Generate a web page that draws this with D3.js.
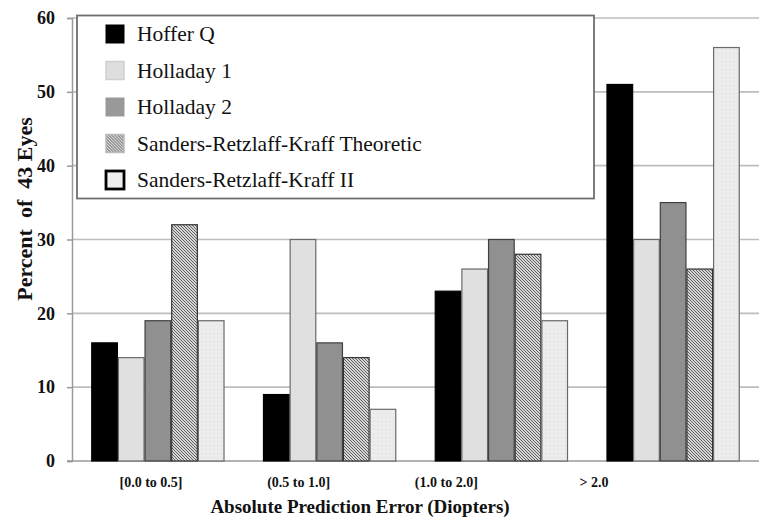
<!DOCTYPE html>
<html><head><meta charset="utf-8">
<script src="https://cdn.jsdelivr.net/npm/d3@7"></script>
<style>body{margin:0;background:#fff}svg{display:block}</style>
</head><body><svg id="c" width="771" height="532"></svg>
<script>
const categories = ["[0.0 to 0.5]", "(0.5 to 1.0]", "(1.0 to 2.0]", "> 2.0"];
const seriesNames = ["Hoffer Q", "Holladay 1", "Holladay 2", "Sanders-Retzlaff-Kraff Theoretic", "Sanders-Retzlaff-Kraff II"];
const hofferQ = [16, 9, 23, 51];
const holladay1 = [14, 30, 26, 30];
const holladay2 = [19, 16, 30, 35];
const srkT = [32, 14, 28, 26];
const srkII = [19, 7, 19, 56];
const yTicks = [0, 10, 20, 30, 40, 50, 60];

const FONT = "Liberation Serif";
const series = [hofferQ, holladay1, holladay2, srkT, srkII];
const svg = d3.select("#c");
const defs = svg.append("defs");
const hatch = defs.append("pattern").attr("id","hatch").attr("patternUnits","userSpaceOnUse").attr("width",3).attr("height",3);
hatch.append("rect").attr("width",3).attr("height",3).attr("fill","#d6d6d6");
[0,1,2].forEach(k => hatch.append("rect").attr("x",k).attr("y",k).attr("width",1).attr("height",1).attr("fill","#606060"));
const dots = defs.append("pattern").attr("id","dots").attr("patternUnits","userSpaceOnUse").attr("width",4).attr("height",4);
dots.append("rect").attr("width",4).attr("height",4).attr("fill","#ececec");
dots.append("rect").attr("x",1).attr("y",1).attr("width",1).attr("height",1).attr("fill","#dcdcdc");

const fills = ["#000000", "#e0e0e0", "#909090", "url(#hatch)", "url(#dots)"];
const strokes = ["#000000", "#6a6a6a", "#404040", "#333333", "#6a6a6a"];

const m = {left:72, right:759, top:18, bottom:461};
const y = d3.scaleLinear().domain([0,60]).range([m.bottom, m.top]);
const x0 = d3.scaleBand().domain(categories).range([m.left, m.right]).paddingInner(0.224).paddingOuter(0.112);
const x1 = d3.scaleBand().domain(d3.range(series.length)).range([0, x0.bandwidth()]);
const xLab = d3.scalePoint().domain(categories).range([151, 594]);

// gridlines
svg.append("g").selectAll("line").data(yTicks.filter(d=>d>0)).join("line")
  .attr("x1", m.left).attr("x2", m.right).attr("y1", d=>y(d)).attr("y2", d=>y(d))
  .attr("stroke","#bdbdbd").attr("stroke-width",1.6);

// y axis
const yAxis = svg.append("g").attr("transform",`translate(${m.left},0)`)
  .call(d3.axisLeft(y).tickValues(yTicks).tickSize(5).tickPadding(12));
yAxis.attr("font-family", FONT);
yAxis.select(".domain").attr("stroke","#9a9a9a").attr("stroke-width",1.5);
yAxis.selectAll(".tick line").attr("stroke","#9a9a9a").attr("stroke-width",1.5);
yAxis.selectAll(".tick text").attr("font-family",FONT).attr("font-weight","bold").attr("font-size",18).attr("fill","#111");
svg.append("line").attr("x1",m.left-5).attr("x2",m.right).attr("y1",y(0)).attr("y2",y(0)).attr("stroke","#9a9a9a").attr("stroke-width",1.5);

// bars
series.forEach((vals, si) => {
  svg.append("g").selectAll("rect").data(vals).join("rect")
    .attr("x", (d,i)=>x0(categories[i]) + x1(si) + 0.5)
    .attr("y", d=>y(d))
    .attr("width", x1.bandwidth() - 1)
    .attr("height", d=>y(0)-y(d))
    .attr("fill", fills[si])
    .attr("stroke", strokes[si]).attr("stroke-width", 1.2);
});

// x labels
svg.append("g").selectAll("text").data(categories).join("text")
  .attr("x", d=>xLab(d)).attr("y", 487).attr("text-anchor","middle").attr("font-family",FONT)
  .attr("font-weight","bold").attr("font-size",14).attr("fill","#111").text(d=>d);

svg.append("text").attr("x", 360).attr("y", 513).attr("text-anchor","middle").attr("font-family",FONT)
  .attr("font-weight","bold").attr("font-size",19).attr("fill","#111").text("Absolute Prediction Error (Diopters)");
svg.append("text").attr("transform","translate(32,209) rotate(-90)").attr("text-anchor","middle").attr("font-family",FONT)
  .attr("font-weight","bold").attr("font-size",22).attr("fill","#111").style("white-space","pre").text("Percent  of  43 Eyes");

// legend
svg.append("rect").attr("x",77).attr("y",15.5).attr("width",517).attr("height",183)
  .attr("fill","#fff").attr("stroke","#6e6e6e").attr("stroke-width",1.8);
const legFill = ["#000000", "#dedede", "#999999", "url(#hatch)", "#eeeeee"];
const legStroke = ["#000000", "#cfcfcf", "#999999", "#bbbbbb", "#000000"];
const legSW = [1, 1.5, 1, 1.5, 2.8];
const ly = d3.scalePoint().domain(seriesNames).range([34, 180]);
const lg = svg.append("g").selectAll("g").data(seriesNames).join("g")
  .attr("transform", d=>`translate(0,${ly(d)})`);
lg.append("rect").attr("x",106).attr("y",-9).attr("width",18).attr("height",18)
  .attr("fill",(d,i)=>legFill[i]).attr("stroke",(d,i)=>legStroke[i]).attr("stroke-width",(d,i)=>legSW[i]);
lg.append("text").attr("x",137).attr("y",7).attr("font-family",FONT).attr("font-size",21.5).attr("fill","#111").text(d=>d);
</script></body></html>
